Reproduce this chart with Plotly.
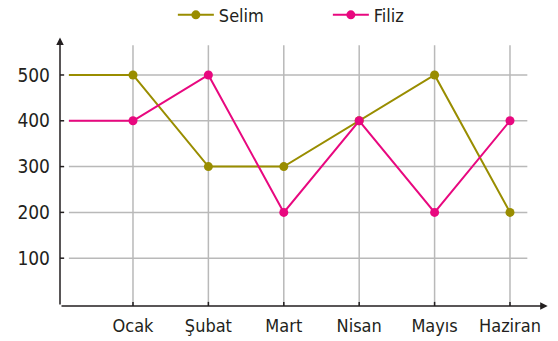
import plotly.graph_objects as go

months = ['Ocak', 'Şubat', 'Mart', 'Nisan', 'Mayıs', 'Haziran']
month_pos = [1, 2, 3, 4, 5, 6]
start_pos = 0.15

selim = [500, 300, 300, 400, 500, 200]
filiz = [400, 500, 200, 400, 200, 400]
selim_start = 500
filiz_start = 400

y_ticks = [100, 200, 300, 400, 500]

SELIM_COLOR = '#998d00'
FILIZ_COLOR = '#e8087f'
GRID = '#b9b9b9'
AXIS = '#231f20'
FONT = 'DejaVu Sans Condensed, DejaVu Sans, sans-serif'

X0, X1 = 0.032, 6.597
Y0, Y1 = -4.4, 600.4

fig = go.Figure()

for name, start, vals, col in [('Selim', selim_start, selim, SELIM_COLOR),
                               ('Filiz', filiz_start, filiz, FILIZ_COLOR)]:
    # lead-in segment from the y axis, no marker
    fig.add_trace(go.Scatter(x=[start_pos, month_pos[0]], y=[start, vals[0]],
                             mode='lines', line=dict(color=col, width=2),
                             showlegend=False, hoverinfo='skip'))
    fig.add_trace(go.Scatter(x=month_pos, y=vals, name=name, mode='lines+markers',
                             line=dict(color=col, width=2),
                             marker=dict(color=col, size=9)))

shapes = []
for v in y_ticks:
    shapes.append(dict(type='line', xref='x', yref='y', x0=start_pos, x1=6.23, y0=v, y1=v,
                       line=dict(color=GRID, width=1.5), layer='below'))
    shapes.append(dict(type='line', xref='x', yref='y', x0=X0 - 0.065, x1=X0 + 0.055, y0=v, y1=v,
                       line=dict(color=AXIS, width=1.5)))
for p in month_pos:
    shapes.append(dict(type='line', xref='x', yref='y', x0=p, x1=p, y0=Y0, y1=565,
                       line=dict(color=GRID, width=1.5), layer='below'))
    shapes.append(dict(type='line', xref='x', yref='y', x0=p, x1=p, y0=Y0 - 11, y1=Y0 + 9,
                       line=dict(color=AXIS, width=1.5)))

annotations = [
    dict(x=X0, y=582, ax=X0, ay=Y0, xref='x', yref='y', axref='x', ayref='y',
         text='', showarrow=True, arrowhead=2, arrowsize=1, arrowwidth=1.5, arrowcolor=AXIS),
    dict(x=6.5, y=Y0, ax=X0, ay=Y0, xref='x', yref='y', axref='x', ayref='y',
         text='', showarrow=True, arrowhead=2, arrowsize=1, arrowwidth=1.5, arrowcolor=AXIS),
]

fig.update_xaxes(range=[X0, X1], tickvals=month_pos, ticktext=months, showgrid=False,
                 zeroline=False, showline=False, ticks='', ticklabelstandoff=7, automargin=False,
                 tickfont=dict(family=FONT, size=18, color=AXIS))
fig.update_yaxes(range=[Y0, Y1], tickvals=y_ticks, showgrid=False, zeroline=False,
                 showline=False, ticks='', ticklabelstandoff=9, automargin=False,
                 tickfont=dict(family=FONT, size=19, color=AXIS))
fig.update_layout(width=558, height=341,
                  margin=dict(l=60, r=3, t=29, b=35, autoexpand=False),
                  paper_bgcolor='white', plot_bgcolor='white',
                  shapes=shapes, annotations=annotations,
                  legend=dict(orientation='h', x=0.228, xanchor='left', y=1.05, yanchor='middle',
                              font=dict(family=FONT, size=18, color=AXIS), entrywidth=104,
                              itemwidth=36),
                  font=dict(family=FONT))

# drop the default 8px page margin so the figure fills the window
fig.write_html('out.html', config={'displayModeBar': False},
               post_script="document.body.style.margin='0';")
